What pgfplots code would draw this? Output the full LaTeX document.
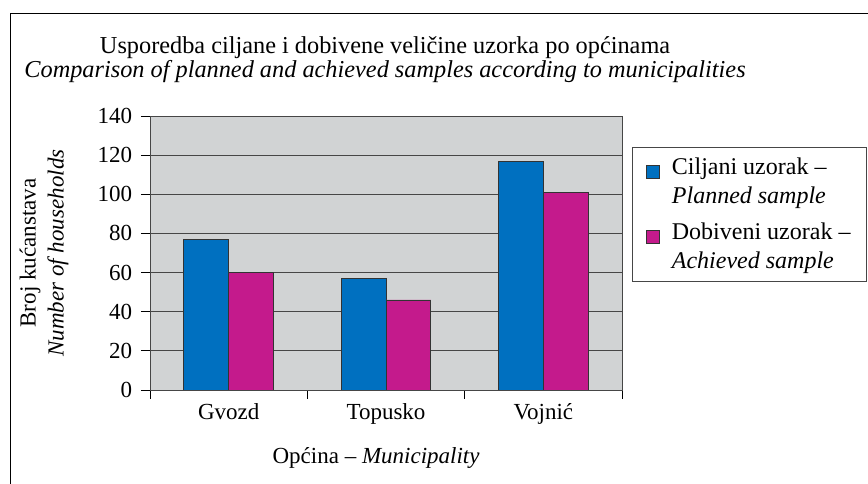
\documentclass[border=0pt]{standalone}
\usepackage{pgfplots}
\pgfplotsset{compat=1.18}
\usepackage{fontspec}
\setmainfont{Liberation Serif}
\definecolor{cblue}{RGB}{0,112,192}
\definecolor{cmag}{RGB}{196,26,140}
\definecolor{plotbg}{RGB}{209,211,212}
\definecolor{gridc}{RGB}{70,70,70}
\begin{document}
\fontsize{23bp}{27bp}\selectfont
\begin{tikzpicture}[x=1bp,y=1bp]
\useasboundingbox (0,0) rectangle (868,484);
\draw[line width=0.9bp] (10,-20) -- (10,471) -- (900,471);
\begin{axis}[
  at={(150bp,94bp)}, anchor=south west,
  scale only axis, width=472bp, height=274bp,
  ybar=0pt, bar width=0.285,
  xmin=-0.5, xmax=2.5, ymin=0, ymax=140,
  xtick={-0.5,0.5,1.5,2.5},
  x tick label as interval=true,
  xticklabels={Gvozd,Topusko,Vojnić},
  ytick={0,20,...,140},
  tick pos=left,
  tick align=outside, major tick length=9bp,
  tick style={black, line width=0.8bp},
  ymajorgrids, grid style={gridc, line width=0.8bp},
  axis line style={gridc, line width=0.8bp},
  axis background/.style={fill=plotbg},
  /pgf/number format/assume math mode=true,
  tick label style={font=\fontsize{23bp}{27bp}\selectfont},
  xticklabel style={yshift=3bp},
  yticklabel style={xshift=-1bp},
  xlabel={Općina -- \textit{Municipality}},
  xlabel style={at={(axis description cs:0.479,-0.248)}, anchor=center},
  ylabel={Broj kućanstava\\\textit{Number of households}},
  ylabel style={at={(axis description cs:-0.2246,0.5)}, anchor=center, rotate=0, align=center, font=\fontsize{23bp}{28bp}\selectfont},
  title={Usporedba ciljane i dobivene veličine uzorka po općinama\\\textit{Comparison of planned and achieved samples according to municipalities}},
  title style={at={(axis description cs:0.498,1.184)}, anchor=center, align=center, font=\fontsize{24.3bp}{21.5bp}\selectfont},
  legend style={at={(axis description cs:1.021,0.887)}, anchor=north west,
    draw=gridc, line width=0.8bp, fill=white, inner xsep=14bp, inner ysep=8bp,
    font=\fontsize{24bp}{29bp}\selectfont,
    cells={align=left, anchor=west}, row sep=12bp,
    /tikz/every odd column/.append style={column sep=10bp}},
  legend image code/.code={\draw[#1, line width=0.6bp] (0bp,4bp) rectangle (13bp,17bp);},
]
\addplot[fill=cblue, draw=black!80, line width=0.8bp] coordinates {(0,77) (1,57) (2,117)};
\addplot[fill=cmag, draw=black!80, line width=0.8bp] coordinates {(0,60) (1,46) (2,101)};
\legend{Ciljani uzorak --\\\textit{Planned sample}, Dobiveni uzorak --\\\textit{Achieved sample}}
\end{axis}
\end{tikzpicture}
\end{document}
